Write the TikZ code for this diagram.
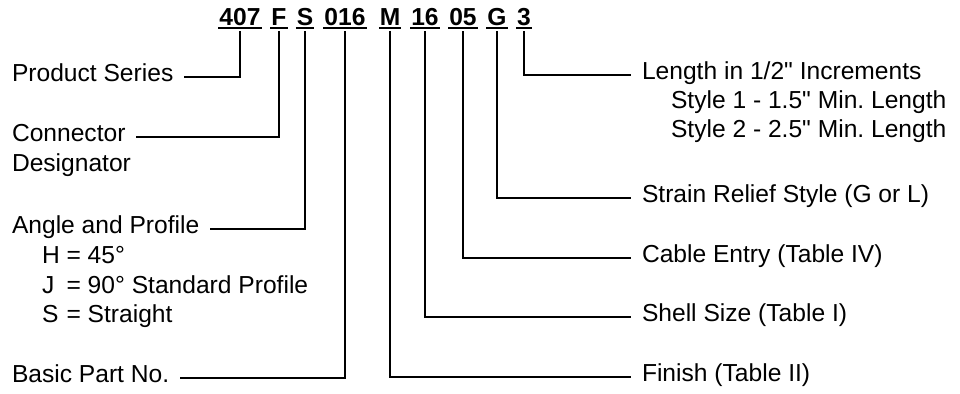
\documentclass[tikz,border=0pt]{standalone}
\usepackage{fontspec}
\setmainfont{Liberation Sans}
\frenchspacing

\newcommand{\lead}[1]{\makebox[0.72em][l]{#1}}

\begin{document}
\begin{tikzpicture}
            [x=0.5pt, y=-0.5pt, line width=1pt,
             font=\fontsize{12.3}{14}\selectfont,
             lbl/.style={anchor=base west, inner sep=0pt},
             part/.style={anchor=base, inner sep=0pt, font=\fontsize{12.3}{14}\selectfont\bfseries},
             lead/.style={shorten >=5pt}]
            \useasboundingbox (0,0) rectangle (960,394);

            % part number
            \node[part] (p407) at (240, 26) {407};
            \node[part] (pF) at (279, 26) {F};
            \node[part] (pS) at (305, 26) {S};
            \node[part] (p016) at (345, 26) {016};
            \node[part] (pM) at (390, 26) {M};
            \node[part] (p16) at (425, 26) {16};
            \node[part] (p05) at (463, 26) {05};
            \node[part] (pG) at (497, 26) {G};
            \node[part] (p3) at (524, 26) {3};
            \foreach \p in {p407, pF, pS, p016, pM, p16, p05, pG, p3}
                \draw ([yshift=-0.8pt]\p.base west) -- ([yshift=-0.8pt]\p.base east);

            % left labels
            \node[lbl] (series) at (11, 82) {Product Series};
            \node[lbl] (conn) at (11, 142) {Connector};
            \node[lbl] (desig) at (11, 172) {Designator};
            \node[lbl] (angle) at (11, 234) {Angle and Profile};
            \node[lbl] (angH) at (41, 264) {\lead{H} = 45°};
            \node[lbl] (angJ) at (41, 294) {\lead{J} = 90° Standard Profile};
            \node[lbl] (angS) at (41, 323) {\lead{S} = Straight};
            \node[lbl] (basic) at (11, 383) {Basic Part No.};

            % right labels
            \node[lbl] (length) at (641, 80) {Length in 1/2\textquotedbl{} Increments};
            \node[lbl] (style1) at (670, 109) {Style 1 - 1.5\textquotedbl{} Min. Length};
            \node[lbl] (style2) at (670, 138) {Style 2 - 2.5\textquotedbl{} Min. Length};
            \node[lbl] (strain) at (641, 203) {Strain Relief Style (G or L)};
            \node[lbl] (cable) at (641, 263) {Cable Entry (Table IV)};
            \node[lbl] (shell) at (641, 322) {Shell Size (Table I)};
            \node[lbl] (finish) at (641, 382) {Finish (Table II)};

            \draw[lead] ([yshift=-2pt]p407.south) |- (series.mid east);
            \draw[lead] ([yshift=-2pt]pF.south) |- (conn.mid east);
            \draw[lead] ([yshift=-2pt]pS.south) |- (angle.mid east);
            \draw[lead] ([yshift=-2pt]p016.south) |- (basic.mid east);
            \draw[lead] ([yshift=-2pt]pM.south) |- (finish.mid west);
            \draw[lead] ([yshift=-2pt]p16.south) |- (shell.mid west);
            \draw[lead] ([yshift=-2pt]p05.south) |- (cable.mid west);
            \draw[lead] ([yshift=-2pt]pG.south) |- (strain.mid west);
            \draw[lead] ([yshift=-2pt]p3.south) |- (length.mid west);
        \end{tikzpicture}
\end{document}
